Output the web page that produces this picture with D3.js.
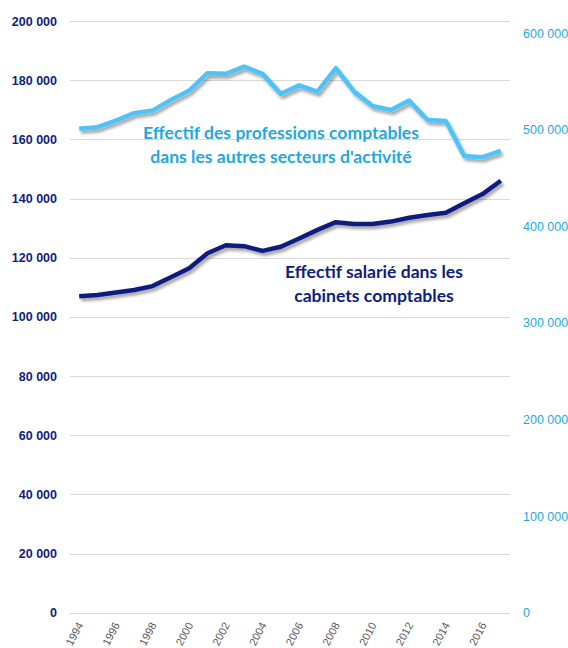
<!DOCTYPE html>
<html>
<head>
<meta charset="utf-8">
<script src="https://cdn.jsdelivr.net/npm/d3@7"></script>
<style>
  body { margin: 0; background: #fff; }
  svg { font-family: Lato, "Open Sans", sans-serif; }
</style>
</head>
<body>
<svg id="chart"></svg>
<script>
// years on the category axis
const years = d3.range(1994, 2018);
const tickYears = d3.range(1994, 2017, 2);

// effectif salarié dans les cabinets comptables (left axis)
const cabinets = [107000, 107400, 108200, 109100, 110400, 113400, 116400, 121500,
  124200, 123900, 122300, 123700, 126500, 129400, 132000, 131400, 131400, 132200,
  133500, 134400, 135200, 138400, 141500, 146000];

// effectif des professions comptables dans les autres secteurs (right axis)
const autres = [501000, 502500, 509300, 517000, 519700, 530700, 540400, 558400,
  557700, 565200, 557700, 537000, 545800, 539300, 563600, 539300, 524500, 520400,
  530000, 510000, 509000, 472800, 471400, 478000];

const leftTicks = d3.range(0, 200001, 20000);
const rightTicks = d3.range(0, 600001, 100000);

const width = 568, height = 648;
const navy = "#0f1d7e", sky = "#4dc3f7", skyText = "#1fa8e0";

const svg = d3.select("#chart")
  .attr("width", width)
  .attr("height", height);

// drop shadow like the spreadsheet line effect
const defs = svg.append("defs");
const f = defs.append("filter").attr("id", "shadow")
  .attr("x", "-5%").attr("y", "-20%").attr("width", "110%").attr("height", "160%");
f.append("feDropShadow")
  .attr("dx", 2).attr("dy", 3).attr("stdDeviation", 1.6)
  .attr("flood-color", "#000").attr("flood-opacity", 0.35);

const x = d3.scaleBand().domain(years).range([70, 510]);
const xp = d => x(d) + x.bandwidth() / 2;
const yL = d3.scaleLinear().domain([0, 200000]).range([612.7, 21]);
const yR = d3.scaleLinear().domain([0, 600000]).range([612.7, 33]);

const fmt = v => d3.format(",")(v).replace(/,/g, " ");

// gridlines
svg.append("g")
  .selectAll("line")
  .data(leftTicks)
  .join("line")
    .attr("x1", 70).attr("x2", 510)
    .attr("y1", d => Math.round(yL(d)) + 0.5)
    .attr("y2", d => Math.round(yL(d)) + 0.5)
    .attr("stroke", "#d9d9d9")
    .attr("stroke-width", 1);

// left axis labels
const leftAxis = svg.append("g")
  .attr("transform", "translate(62,0)")
  .call(d3.axisLeft(yL).tickValues(leftTicks).tickFormat(fmt).tickSize(0).tickPadding(5));
leftAxis.select(".domain").remove();
leftAxis.selectAll("text")
  .attr("fill", navy)
  .attr("font-size", "12.5px")
  .attr("font-weight", "bold");

// right axis labels
const rightAxis = svg.append("g")
  .attr("transform", "translate(518,0)")
  .call(d3.axisRight(yR).tickValues(rightTicks).tickFormat(fmt).tickSize(0).tickPadding(5));
rightAxis.select(".domain").remove();
rightAxis.selectAll("text")
  .attr("fill", skyText)
  .attr("font-size", "12.5px");

// x axis labels, rotated
const xAxis = svg.append("g")
  .attr("transform", "translate(0,617)")
  .call(d3.axisBottom(x).tickValues(tickYears).tickSize(0).tickPadding(0));
xAxis.select(".domain").remove();
xAxis.selectAll("text")
  .attr("fill", "#595959")
  .attr("font-size", "11px")
  .attr("text-anchor", "end")
  .attr("dy", "0.35em")
  .attr("transform", "translate(1,6) rotate(-62)");

// lines
const lineL = d3.line().x((d, i) => xp(years[i])).y(d => yL(d));
const lineR = d3.line().x((d, i) => xp(years[i])).y(d => yR(d));

svg.append("path")
  .datum(autres)
  .attr("d", lineR)
  .attr("fill", "none")
  .attr("stroke", sky)
  .attr("stroke-width", 4.5)
  .attr("stroke-linejoin", "round")
  .attr("filter", "url(#shadow)");

svg.append("path")
  .datum(cabinets)
  .attr("d", lineL)
  .attr("fill", "none")
  .attr("stroke", navy)
  .attr("stroke-width", 4.5)
  .attr("stroke-linejoin", "round")
  .attr("filter", "url(#shadow)");

// series labels
const labels = [
  { lines: ["Effectif des professions comptables", "dans les autres secteurs d'activité"], x: 281, y: 133, color: skyText },
  { lines: ["Effectif salarié dans les", "cabinets comptables"], x: 374, y: 272, color: navy }
];
labels.forEach(l => {
  const t = svg.append("text")
    .attr("text-anchor", "middle")
    .attr("font-size", "17.6px")
    .attr("font-weight", "bold")
    .attr("fill", l.color);
  l.lines.forEach((s, i) => {
    t.append("tspan")
      .attr("x", l.x)
      .attr("y", l.y + i * 24)
      .attr("dy", "0.35em")
      .text(s);
  });
});
</script>
</body>
</html>
